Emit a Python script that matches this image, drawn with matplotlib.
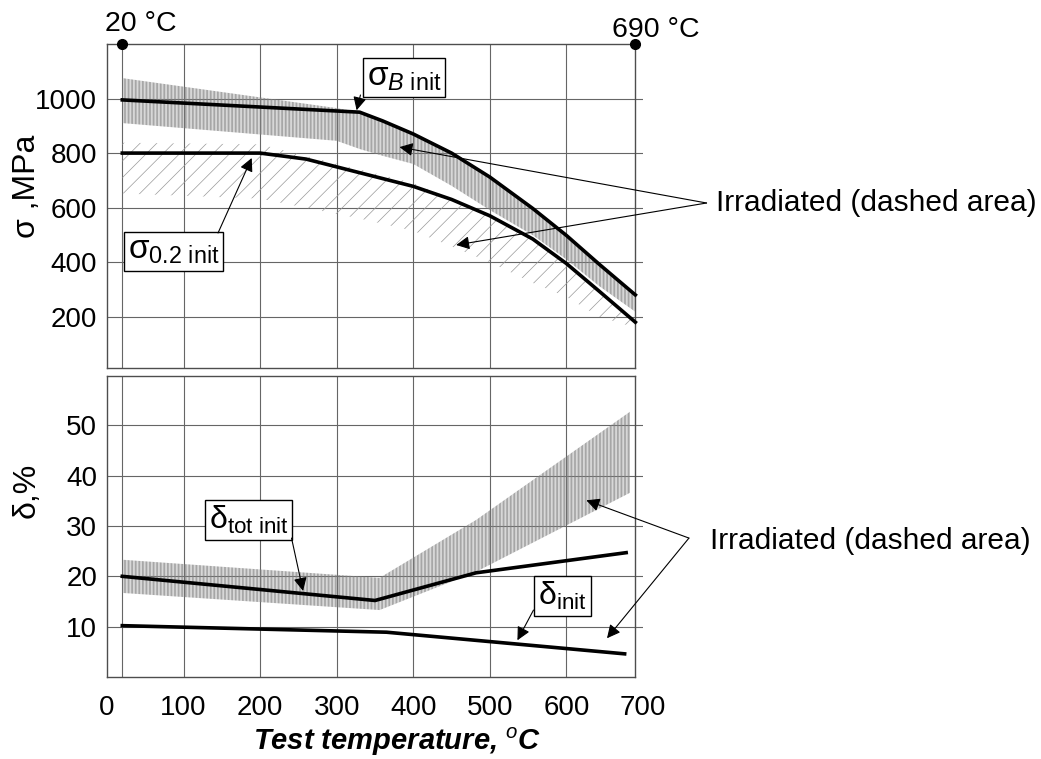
import matplotlib
matplotlib.use("Agg")
import matplotlib.pyplot as plt

plt.rcParams["font.family"] = ["Liberation Sans", "DejaVu Sans"]
plt.rcParams["mathtext.fontset"] = "custom"
plt.rcParams["mathtext.rm"] = "Liberation Sans"
plt.rcParams["mathtext.it"] = "Liberation Sans:italic"
plt.rcParams["mathtext.bf"] = "Liberation Sans:bold"
plt.rcParams["hatch.linewidth"] = 0.5

# --- data ---
temp_sb = [20, 330, 360, 400, 450, 500, 556, 600, 643, 690]
sigma_b = [995, 950, 918, 870, 800, 712, 597, 498, 392, 280]

temp_s02 = [20, 200, 260, 330, 400, 450, 500, 556, 600, 643, 690]
sigma_02 = [800, 800, 778, 728, 678, 630, 570, 485, 395, 293, 180]

# irradiated scatter band around sigma_B (dotted)
band_b_t = [20, 300, 330, 360, 400, 450, 500, 556, 600, 643, 690]
band_b_hi = [1075, 965, 950, 918, 870, 800, 712, 597, 498, 392, 280]
band_b_lo = [910, 845, 815, 790, 760, 680, 591, 499, 410, 312, 218]

# irradiated scatter band around sigma_0.2 (diagonal hatch)
band_02_t = [20, 200, 330, 400, 500, 556, 600, 643, 690]
band_02_hi = [838, 832, 740, 690, 575, 490, 400, 298, 185]
band_02_lo = [652, 633, 560, 515, 400, 324, 273, 200, 160]

temp_dtot = [20, 350, 482, 678]
delta_tot = [20.0, 15.2, 20.7, 24.7]

temp_dinit = [20, 365, 676]
delta_init = [10.2, 8.9, 4.6]

band_d_t = [20, 356, 482, 683]
band_d_hi = [23.3, 19.7, 31.2, 52.7]
band_d_lo = [16.7, 13.3, 20.9, 36.6]

x_ticks = [0, 100, 200, 300, 400, 500, 600, 700]
x_grid = [20, 100, 200, 300, 400, 500, 600]
sigma_ticks = [200, 400, 600, 800, 1000]
delta_ticks = [10, 20, 30, 40, 50]

W, H = 1041, 759
fig = plt.figure(figsize=(W / 100, H / 100), dpi=100)
ax1 = fig.add_axes([107 / W, 1 - 368 / H, 536 / W, 324 / H])
ax2 = fig.add_axes([107 / W, 1 - 677 / H, 536 / W, 301 / H])

GRID = dict(color="0.4", lw=0.8, zorder=1)
for ax in (ax1, ax2):
    ax.set_xlim(0, 700)
    ax.spines["right"].set_position(("data", 690))
    ax.spines["top"].set_bounds(0, 690)
    ax.spines["bottom"].set_bounds(0, 690)
    for s in ax.spines.values():
        s.set_color("0.3")
        s.set_linewidth(1.0)
    ax.tick_params(length=0, labelsize=20, pad=7)
    ax.grid(axis="y", **GRID)
    for v in x_grid:
        ax.axvline(v, **GRID)

# ---- top panel: strength ----
ax1.set_ylim(12, 1200)
ax1.set_yticks(sigma_ticks)
ax1.set_xticks(x_ticks)
ax1.tick_params(axis="x", labelbottom=False)

ax1.fill_between(band_02_t, band_02_lo, band_02_hi, facecolor="none",
                 edgecolor="0.6", hatch="//", linewidth=0, zorder=2)
ax1.fill_between(band_b_t, band_b_lo, band_b_hi, facecolor="none",
                 edgecolor="0.5", hatch="|" * 12, linewidth=0, zorder=2)
ax1.plot(temp_sb, sigma_b, color="black", lw=2.6, zorder=4)
ax1.plot(temp_s02, sigma_02, color="black", lw=2.6, zorder=4)
ax1.plot([20, 690], [1200, 1200], "o", color="black", ms=7, clip_on=False, zorder=5)

BOX = dict(boxstyle="square,pad=0.12", fc="white", ec="black", lw=1.0)
ARR = dict(arrowstyle="-|>", color="black", lw=0.8, mutation_scale=20,
           shrinkA=0, shrinkB=0)

ax1.text(388, 1078, r"$\mathrm{\sigma}_{B\ \mathrm{init}}$", fontsize=24,
         ha="center", va="center", bbox=BOX, zorder=6)
ax1.annotate("", xy=(326, 957), xytext=(331, 1013), arrowprops=ARR, zorder=6)
ax1.text(87, 441, r"$\mathrm{\sigma}_{\mathit{0.2}\ \mathrm{init}}$", fontsize=24,
         ha="center", va="center", bbox=BOX, zorder=6)
ax1.annotate("", xy=(189, 782), xytext=(145, 507), arrowprops=ARR, zorder=6)

for head in [(382, 822), (456, 463)]:
    ax1.annotate("", xy=head, xytext=(783, 617), arrowprops=ARR,
                 annotation_clip=False, zorder=6)

# ---- bottom panel: elongation ----
ax2.set_ylim(0, 59.8)
ax2.set_yticks(delta_ticks)
ax2.set_xticks(x_ticks)
ax2.tick_params(axis="x", pad=13)

ax2.fill_between(band_d_t, band_d_lo, band_d_hi, facecolor="none",
                 edgecolor="0.5", hatch="|" * 12, linewidth=0, zorder=2)
ax2.plot(temp_dtot, delta_tot, color="black", lw=2.6, zorder=4)
ax2.plot(temp_dinit, delta_init, color="black", lw=2.6, zorder=4)

ax2.text(185, 31.2, r"$\mathrm{\delta}_{\mathrm{tot\ init}}$", fontsize=23,
         ha="center", va="center", bbox=BOX, zorder=6)
ax2.annotate("", xy=(256, 17.1), xytext=(241, 27.6), arrowprops=ARR, zorder=6)
ax2.text(595, 16.1, r"$\mathrm{\delta}_{\mathrm{init}}$", fontsize=23,
         ha="center", va="center", bbox=BOX, zorder=6)
ax2.annotate("", xy=(536, 7.3), xytext=(557, 13.3), arrowprops=ARR, zorder=6)

for head in [(626, 35.1), (653, 7.7)]:
    ax2.annotate("", xy=head, xytext=(760, 27.6), arrowprops=ARR,
                 annotation_clip=False, zorder=6)

# ---- figure texts ----
fig.text(141 / W, 1 - 24 / H, "20 °C", fontsize=20.5, ha="center", va="center")
fig.text(656 / W, 1 - 30 / H, "690 °C", fontsize=20.5, ha="center", va="center")
fig.text(716 / W, 1 - 203 / H, "Irradiated (dashed area)", fontsize=21.5,
         ha="left", va="center")
fig.text(710 / W, 1 - 541 / H, "Irradiated (dashed area)", fontsize=21.5,
         ha="left", va="center")
fig.text(27 / W, 1 - 186 / H, "σ ,MPa", fontsize=23, rotation=90,
         ha="center", va="center")
fig.text(27 / W, 1 - 490 / H, "δ,%", fontsize=23, rotation=90,
         ha="center", va="center")
fig.text(397 / W, 1 - 742 / H, r"Test temperature, $^{o}$C", fontsize=21,
         fontweight="bold", fontstyle="italic", ha="center", va="center")

fig.savefig("out.png", dpi=100)
